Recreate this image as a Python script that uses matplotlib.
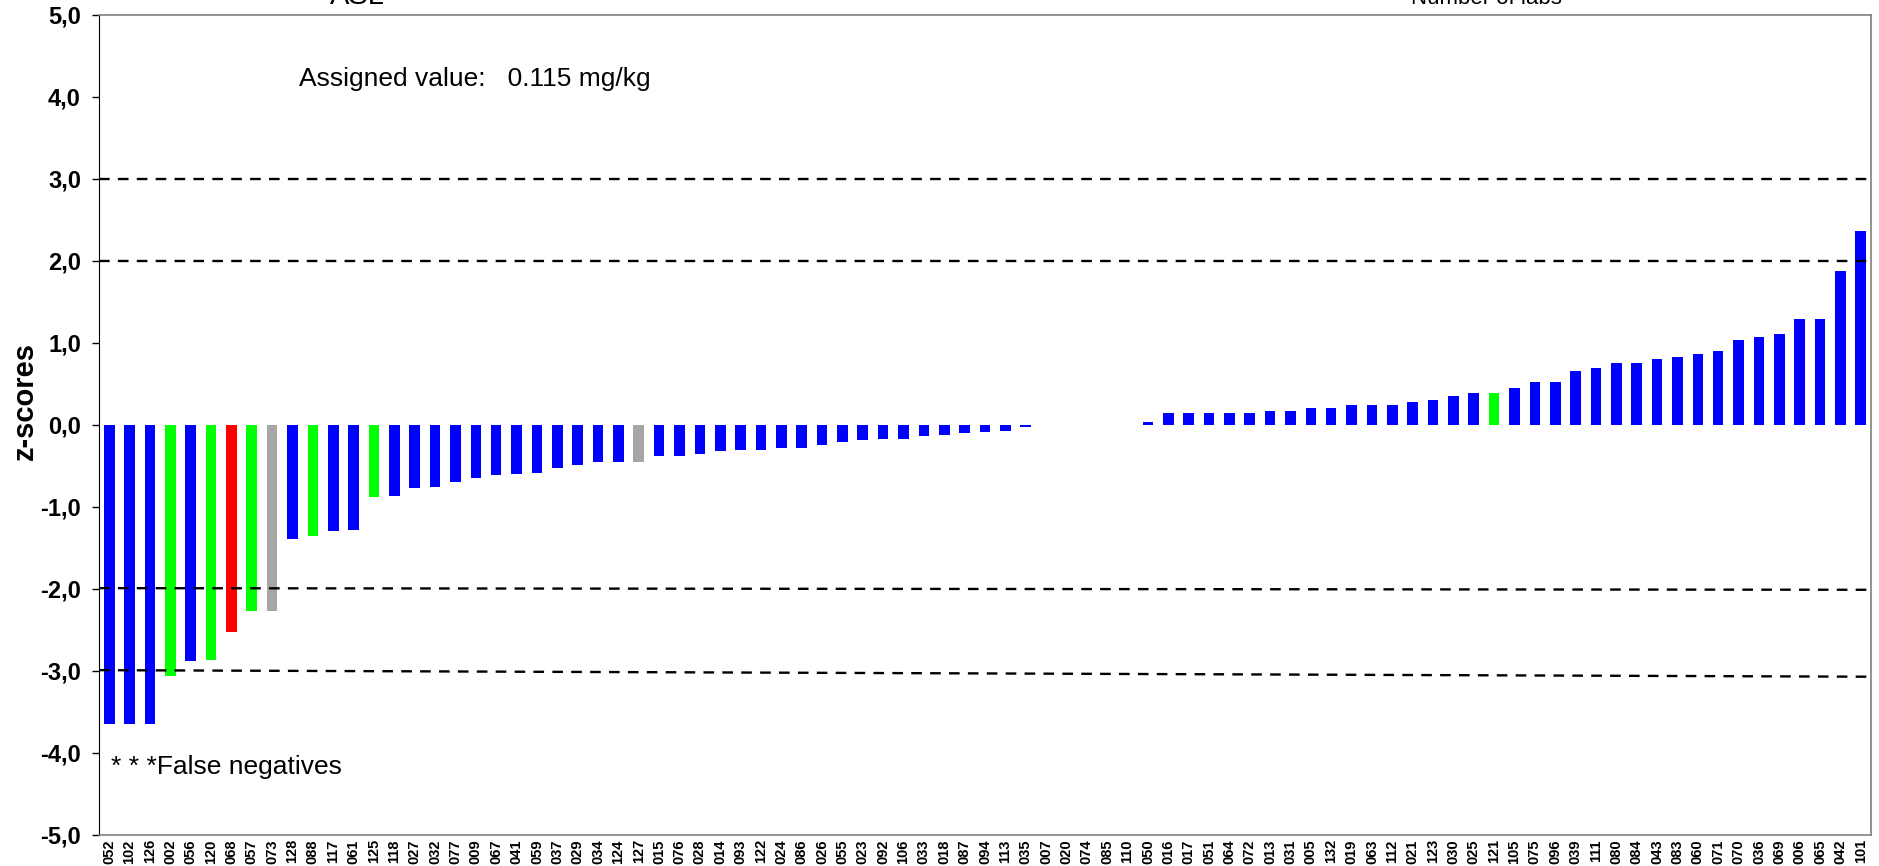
import matplotlib
matplotlib.use("Agg")
import matplotlib.pyplot as plt
from matplotlib.ticker import FuncFormatter

# lab codes, sorted by z-score
labs = [
    "052", "102", "126", "002", "056", "120", "068", "057", "073", "128",
    "088", "117", "061", "125", "118", "027", "032", "077", "009", "067",
    "041", "059", "037", "029", "034", "124", "127", "015", "076", "028",
    "014", "093", "122", "024", "086", "026", "055", "023", "092", "106",
    "033", "018", "087", "094", "113", "035", "007", "020", "074", "085",
    "110", "050", "016", "017", "051", "064", "072", "013", "031", "005",
    "132", "019", "063", "112", "021", "123", "030", "025", "121", "105",
    "075", "096", "039", "111", "080", "084", "043", "083", "060", "071",
    "070", "036", "069", "006", "065", "042", "101",
]

zscores = [
    -3.65, -3.65, -3.65, -3.06, -2.88, -2.87, -2.52, -2.27, -2.27, -1.39,
    -1.36, -1.29, -1.28, -0.88, -0.87, -0.77, -0.76, -0.70, -0.65, -0.61,
    -0.60, -0.59, -0.52, -0.49, -0.45, -0.45, -0.45, -0.38, -0.38, -0.35,
    -0.32, -0.31, -0.31, -0.28, -0.28, -0.25, -0.21, -0.18, -0.17, -0.17,
    -0.14, -0.12, -0.10, -0.09, -0.07, -0.03, 0.0, 0.0, 0.0, 0.0,
    0.0, 0.04, 0.14, 0.14, 0.14, 0.14, 0.14, 0.17, 0.17, 0.21,
    0.21, 0.24, 0.24, 0.24, 0.28, 0.31, 0.35, 0.39, 0.39, 0.45,
    0.52, 0.52, 0.66, 0.70, 0.75, 0.75, 0.80, 0.83, 0.86, 0.90,
    1.04, 1.07, 1.11, 1.29, 1.29, 1.88, 2.37,
]

# result category per lab: ok, fn (false negative), red, grey
status = ["ok"] * len(labs)
for code, st in [("002", "fn"), ("120", "fn"), ("057", "fn"), ("088", "fn"),
                 ("125", "fn"), ("121", "fn"), ("068", "red"),
                 ("073", "grey"), ("127", "grey")]:
    status[labs.index(code)] = st

# limit lines (left end, right end)
limit_lines = [(3.0, 3.0), (2.0, 2.0), (-1.99, -2.01), (-2.99, -3.07)]

yticks = [-5, -4, -3, -2, -1, 0, 1, 2, 3, 4, 5]

assigned_text = "Assigned value:   0.115 mg/kg"
footnote = "* * *False negatives"

colors = {"ok": "#0000FF", "fn": "#00FF00", "red": "#FF0000", "grey": "#A6A6A6"}

plt.rcParams["font.family"] = ["Liberation Sans", "DejaVu Sans"]

fig = plt.figure(figsize=(18.79, 8.66), dpi=100)
ax = fig.add_axes([0.0527, 0.0358, 0.943, 0.947])

x = list(range(len(labs)))
ax.bar(x, zscores, width=0.52, color=[colors[s] for s in status], zorder=2)

n = len(labs)
for y0, y1 in limit_lines:
    ax.plot([-0.5, n - 0.5], [y0, y1], color="black", lw=1.7,
            ls=(0, (4.5, 3.5)), zorder=3)

ax.set_xlim(-0.5, n - 0.5)
ax.set_ylim(-5, 5)
ax.set_yticks(yticks)
ax.yaxis.set_major_formatter(FuncFormatter(lambda v, p: f"{v:.1f}".replace(".", ",")))
ax.tick_params(axis="y", direction="out", length=5, width=1, labelsize=17, pad=8)
for t in ax.get_yticklabels():
    t.set_fontweight("bold")

ax.set_xticks(x)
ax.set_xticklabels(labs, rotation=90, fontsize=10.5, fontweight="bold")
ax.tick_params(axis="x", length=0, pad=3)

for side in ["top", "right", "bottom"]:
    ax.spines[side].set_color("#808080")
    ax.spines[side].set_linewidth(1.2)
ax.spines["left"].set_color("black")

fig.text(0.013, 0.537, "z-scores", rotation=90, fontsize=21, fontweight="bold",
         ha="center", va="center")

ax.text(0.113, 0.922, assigned_text, transform=ax.transAxes, fontsize=19, va="center")
ax.text(0.007, 0.083, footnote, transform=ax.transAxes, fontsize=19, va="center")

# chart headings sitting above the plot area (mostly off the canvas)
fig.text(0.1755, 0.995, "ASL", fontsize=21, va="baseline")
fig.text(0.751, 0.995, "Number of labs", fontsize=16, va="baseline")

fig.savefig("out.png", dpi=100)
